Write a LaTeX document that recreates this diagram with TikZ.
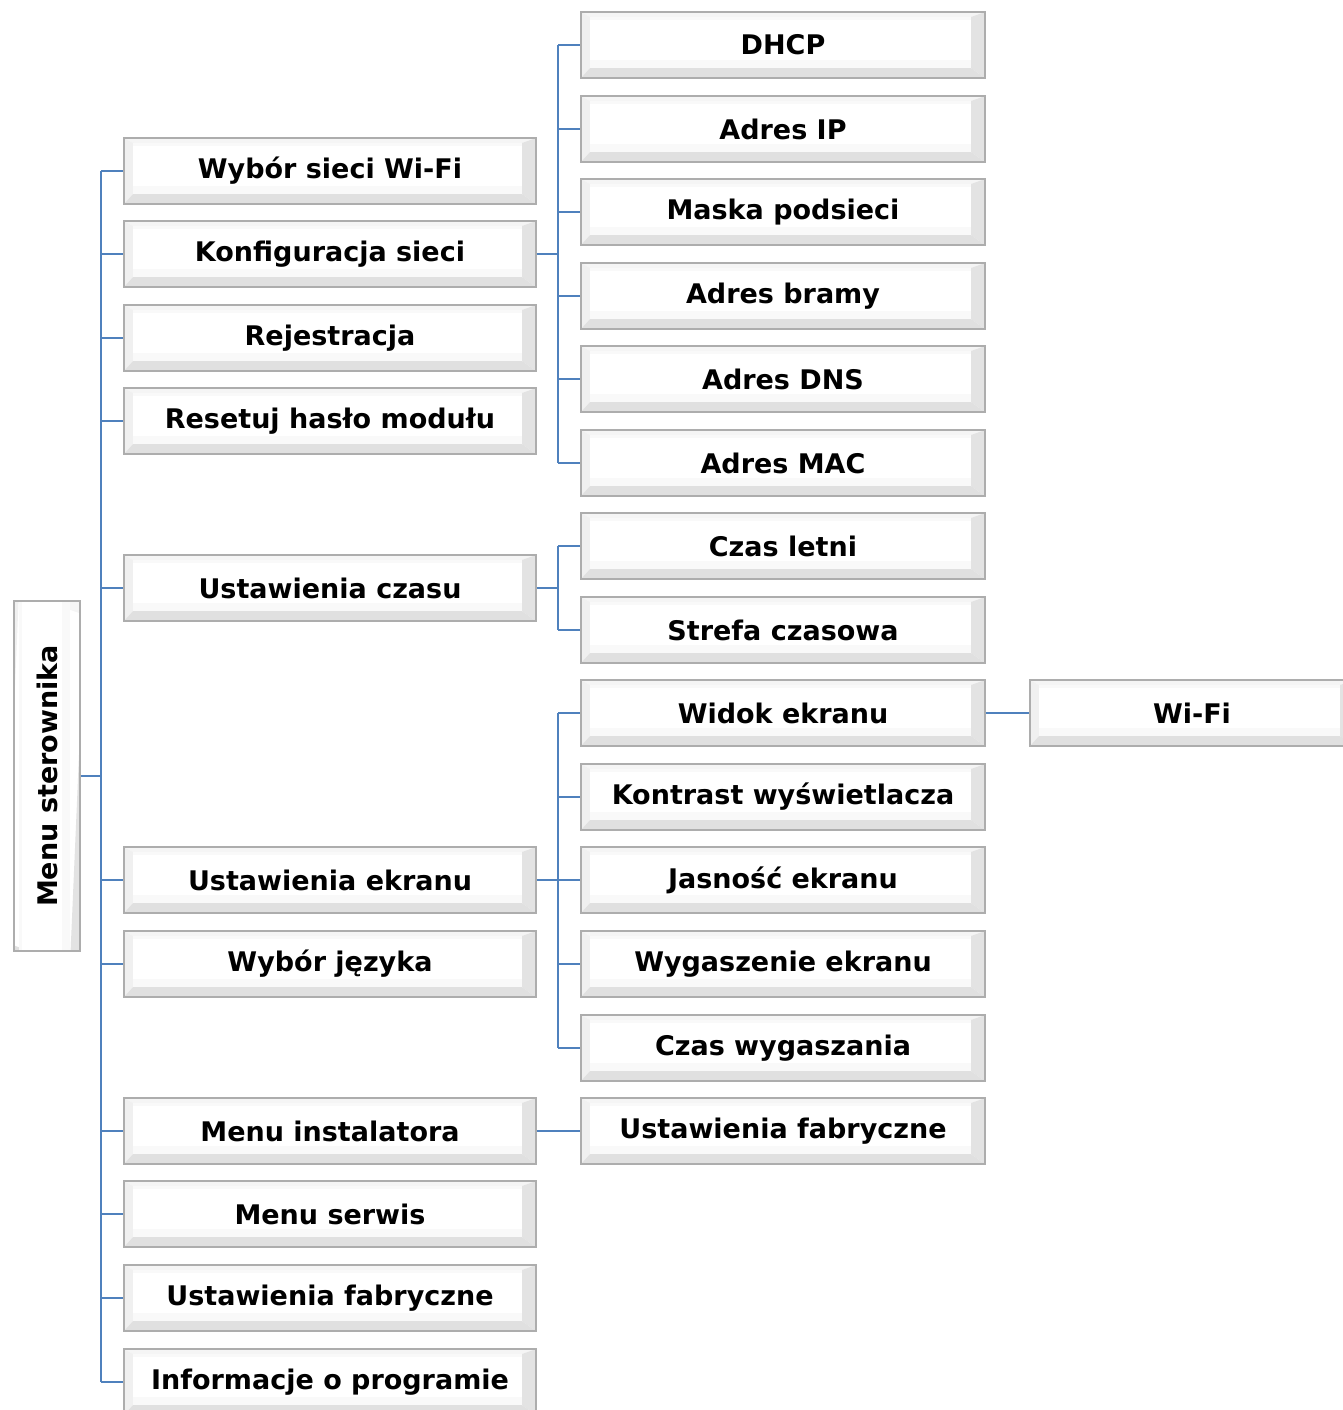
\documentclass[tikz,border=0pt]{standalone}
\usepackage{fontspec}
\setmainfont{DejaVu Sans}
\definecolor{lineblue}{HTML}{4F81BD}
\definecolor{bevborder}{HTML}{ADADAD}
\tikzset{
  conn/.style={draw=lineblue, line width=2.6pt},
  bevel/.style={draw=bevborder, line width=1.4pt, fill=white,
    font=\fontsize{27}{31}\selectfont\bfseries, inner sep=0pt,
    path picture={
      \coordinate (A) at (path picture bounding box.north west);
      \coordinate (B) at (path picture bounding box.north east);
      \coordinate (C) at (path picture bounding box.south east);
      \coordinate (D) at (path picture bounding box.south west);
      \coordinate (a) at ([xshift=9pt,yshift=-5pt]A);
      \coordinate (b) at ([xshift=-14pt,yshift=-5pt]B);
      \coordinate (c) at ([xshift=-14pt,yshift=10pt]C);
      \coordinate (d) at ([xshift=9pt,yshift=10pt]D);
      \fill[gray!8] (A) -- (B) -- (b) -- (a) -- cycle;
      \fill[gray!12] (A) -- (a) -- (d) -- (D) -- cycle;
      \fill[gray!22] (B) -- (C) -- (c) -- (b) -- cycle;
      \fill[gray!24] (D) -- (d) -- (c) -- (C) -- cycle;
      \fill[gray!5] (a) rectangle (c);
      \fill[white] ([yshift=-3pt]a) rectangle ([yshift=8pt]c);
    }},
  lone/.style={bevel, minimum width=412pt, minimum height=66pt},
  ltwo/.style={bevel, minimum width=404pt, minimum height=66pt},
}
\begin{document}
\begin{tikzpicture}[x=1pt,y=-1pt]
\useasboundingbox (0,0) rectangle (1343,1410);
\fill[white] (0,0) rectangle (1343,1410);
% root
\node[bevel, rotate=90, minimum width=350pt, minimum height=66pt] (root) at (47,776) {Menu sterownika};
% level 1
\node[lone] (wifi) at (330,171) {Wybór sieci Wi-Fi};
\node[lone] (konf) at (330,254) {Konfiguracja sieci};
\node[lone] (rej) at (330,338) {Rejestracja};
\node[lone] (reset) at (330,421) {Resetuj hasło modułu};
\node[lone] (czas) at (330,588) {Ustawienia czasu};
\node[lone] (ekran) at (330,880) {Ustawienia ekranu};
\node[lone] (jez) at (330,964) {Wybór języka};
\node[lone] (inst) at (330,1131) {Menu instalatora};
\node[lone] (serw) at (330,1214) {Menu serwis};
\node[lone] (fabr) at (330,1298) {Ustawienia fabryczne};
\node[lone] (info) at (330,1382) {Informacje o programie};
% level 2
\node[ltwo] (dhcp) at (783,45) {DHCP};
\node[ltwo] (ip) at (783,129) {Adres IP};
\node[ltwo] (mask) at (783,212) {Maska podsieci};
\node[ltwo] (brama) at (783,296) {Adres bramy};
\node[ltwo] (dns) at (783,379) {Adres DNS};
\node[ltwo] (mac) at (783,463) {Adres MAC};
\node[ltwo] (letni) at (783,546) {Czas letni};
\node[ltwo] (strefa) at (783,630) {Strefa czasowa};
\node[ltwo] (widok) at (783,713) {Widok ekranu};
\node[ltwo] (kontr) at (783,797) {Kontrast wyświetlacza};
\node[ltwo] (jasn) at (783,880) {Jasność ekranu};
\node[ltwo] (wyg) at (783,964) {Wygaszenie ekranu};
\node[ltwo] (czaswyg) at (783,1048) {Czas wygaszania};
\node[ltwo] (fabr2) at (783,1131) {Ustawienia fabryczne};
% level 3
\node[bevel, minimum width=324pt, minimum height=66pt] (wf) at (1192,713) {Wi-Fi};
% trunk
\coordinate (tr) at (101,776);
\draw[conn] (root.south) -- (tr);
\draw[conn] (wifi.west -| tr) -- (info.west -| tr);
\foreach \n in {wifi,konf,rej,reset,czas,ekran,jez,inst,serw,fabr,info}
  \draw[conn] (\n.west -| tr) -- (\n.west);
% konfiguracja sieci
\coordinate (k) at (558,254);
\draw[conn] (konf.east) -- (k);
\draw[conn] (dhcp.west -| k) -- (mac.west -| k);
\foreach \n in {dhcp,ip,mask,brama,dns,mac}
  \draw[conn] (\n.west -| k) -- (\n.west);
% ustawienia czasu
\coordinate (cz) at (558,588);
\draw[conn] (czas.east) -- (cz);
\draw[conn] (letni.west -| cz) -- (strefa.west -| cz);
\foreach \n in {letni,strefa}
  \draw[conn] (\n.west -| cz) -- (\n.west);
% ustawienia ekranu
\coordinate (ek) at (558,880);
\draw[conn] (ekran.east) -- (ek);
\draw[conn] (widok.west -| ek) -- (czaswyg.west -| ek);
\foreach \n in {widok,kontr,jasn,wyg,czaswyg}
  \draw[conn] (\n.west -| ek) -- (\n.west);
% menu instalatora
\draw[conn] (inst.east) -- (fabr2.west);
% widok ekranu
\draw[conn] (widok.east) -- (wf.west);
\end{tikzpicture}
\end{document}
